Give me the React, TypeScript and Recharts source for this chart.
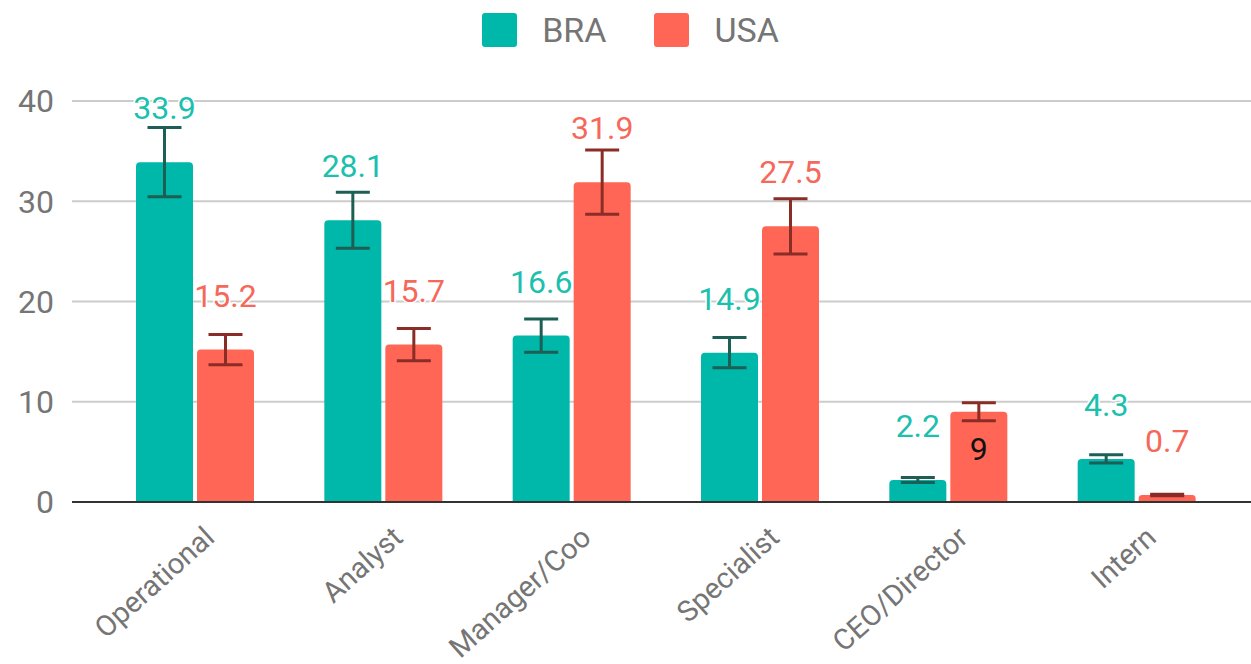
import React from 'react';
import { BarChart, Bar, XAxis, YAxis, CartesianGrid, ErrorBar, Legend } from 'recharts';

// values
const categories = ['Operational', 'Analyst', 'Manager/Coo', 'Specialist', 'CEO/Director', 'Intern'];
const braValues = [33.9, 28.1, 16.6, 14.9, 2.2, 4.3];
const usaValues = [15.2, 15.7, 31.9, 27.5, 9, 0.7];
const braErrors = [3.45, 2.8, 1.65, 1.5, 0.25, 0.42];
const usaErrors = [1.5, 1.6, 3.2, 2.75, 0.9, 0.07];
const yTicks = [0, 10, 20, 30, 40];

const BRA_COLOR = '#00b8a9';
const USA_COLOR = '#ff6656';
const FONT = 'Roboto, sans-serif';
const GREY = '#757575';

const chartData = categories.map((category, i) => ({
  category,
  bra: braValues[i],
  usa: usaValues[i],
  braErr: braErrors[i],
  usaErr: usaErrors[i],
}));

const CategoryTick = (props: any) => {
  const { x, y, payload } = props;
  return (
    <g transform={`translate(${x + 21},${y + 30})`}>
      <text x={0} y={0} textAnchor="end" fill={GREY} fontSize={29} fontFamily={FONT} transform="rotate(-42)">
        {payload.value}
      </text>
    </g>
  );
};

// the annotation for USA / CEO/Director sits inside its bar in the original
const makeValueLabel = (color: string, insideCategory?: string) => (props: any) => {
  const { x, y, width, value, index } = props;
  const inside = insideCategory !== undefined && categories[index] === insideCategory;
  return (
    <text
      x={x + width / 2}
      y={inside ? y + 48 : y - 43}
      textAnchor="middle"
      fill={inside ? '#111111' : color}
      stroke={inside ? 'none' : '#ffffff'}
      strokeWidth={3}
      paintOrder="stroke"
      fontSize={32}
      fontFamily={FONT}
    >
      {value}
    </text>
  );
};

const renderLegend = () => (
  <div style={{ height: 60, display: 'flex', justifyContent: 'center', alignItems: 'center', paddingLeft: 10, fontFamily: FONT }}>
    {[
      { name: 'BRA', color: BRA_COLOR },
      { name: 'USA', color: USA_COLOR },
    ].map((item) => (
      <div key={item.name} style={{ display: 'flex', alignItems: 'center', margin: '0 24px' }}>
        <div style={{ width: 35, height: 34, borderRadius: 3, background: item.color, marginRight: 25 }} />
        <span style={{ fontSize: 34, color: GREY }}>{item.name}</span>
      </div>
    ))}
  </div>
);

export default function App() {
  return (
    <div style={{ position: 'absolute', left: 0, top: 0, background: '#ffffff' }}>
      <BarChart
        width={1251}
        height={664}
        data={chartData}
        margin={{ top: 41, right: 0, bottom: 0, left: 0 }}
        barSize={57}
        barGap={4}
      >
        <CartesianGrid vertical={false} stroke="#cccccc" strokeWidth={2} />
        <Legend verticalAlign="top" content={renderLegend} wrapperStyle={{ top: 0, left: 0, width: 1251 }} />
        <XAxis
          dataKey="category"
          interval={0}
          height={162}
          padding={{ left: 29, right: 20 }}
          tickLine={false}
          axisLine={{ stroke: '#333333', strokeWidth: 2 }}
          tick={<CategoryTick />}
        />
        <YAxis
          width={72}
          domain={[0, 40]}
          ticks={yTicks}
          tickLine={false}
          axisLine={false}
          tickMargin={12}
          tick={{ fill: GREY, fontSize: 32, fontFamily: FONT }}
        />
        <Bar dataKey="bra" name="BRA" fill={BRA_COLOR} radius={[4, 4, 0, 0]} isAnimationActive={false} label={makeValueLabel('#1cc0ae')}>
          <ErrorBar dataKey="braErr" width={17} stroke="#1d5e55" strokeWidth={3} direction="y" />
        </Bar>
        <Bar dataKey="usa" name="USA" fill={USA_COLOR} radius={[4, 4, 0, 0]} isAnimationActive={false} label={makeValueLabel('#f6685a', 'CEO/Director')}>
          <ErrorBar dataKey="usaErr" width={17} stroke="#8a2d26" strokeWidth={3} direction="y" />
        </Bar>
      </BarChart>
    </div>
  );
}
